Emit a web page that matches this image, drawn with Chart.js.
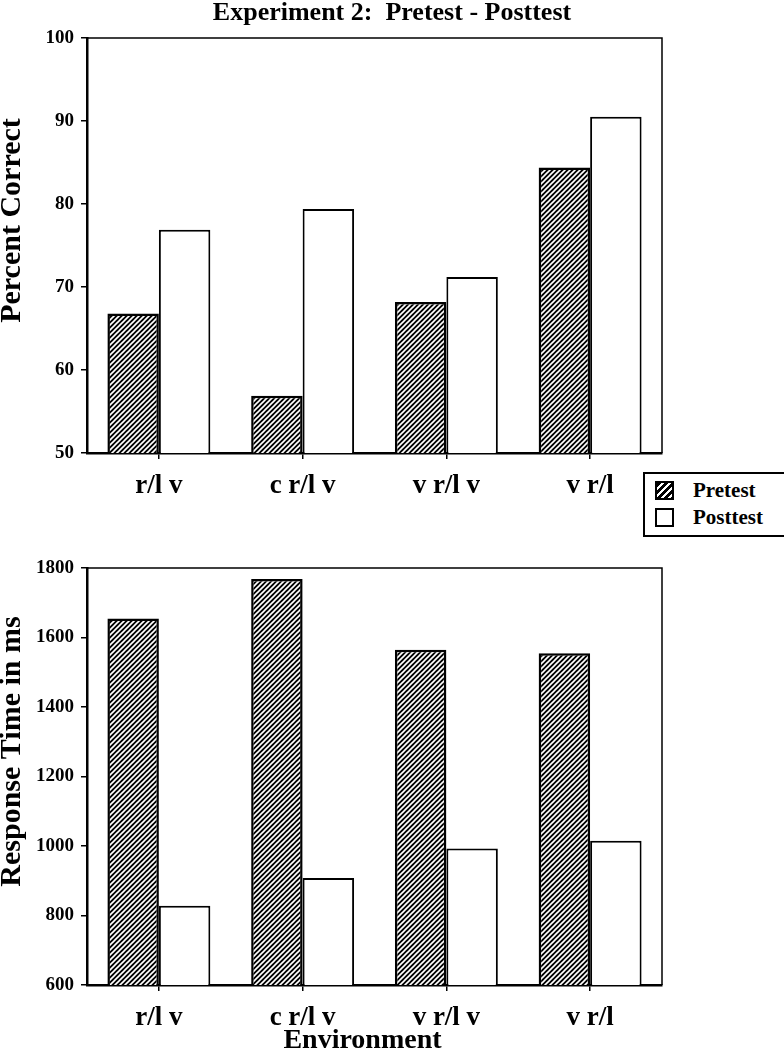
<!DOCTYPE html>
<html>
<head>
<meta charset="utf-8">
<script src="https://cdn.jsdelivr.net/npm/chart.js@4.4.0/dist/chart.umd.min.js"></script>
<style>
  body { margin: 0; background: #fff; width: 784px; height: 1050px; position: relative; overflow: hidden; font-family: 'Liberation Serif', serif; }
  canvas { position: absolute; left: 0; }
  #pctChart { top: 0; }
  #rtChart { top: 530px; }
  #legend { position: absolute; left: 643px; top: 472px; width: 160px; height: 61px; border: 2px solid #000; background: #fff; z-index: 2; }
  .item { position: absolute; left: 10px; height: 20px; font-weight: bold; font-size: 21px; line-height: 20px; }
  .swatch { position: absolute; left: 0; top: 1px; width: 15px; height: 15px; border: 2px solid #000; background: #fff; }
  .swatch.hatch { background: repeating-linear-gradient(135deg, #000 0 3px, #fff 3px 5px); }
  .item span { position: absolute; left: 38px; top: 0; white-space: nowrap; }
</style>
</head>
<body>
<canvas id="pctChart" width="784" height="540"></canvas>
<canvas id="rtChart" width="784" height="520"></canvas>
<div id="legend"></div>
<script>
// data
const categories = ['r/l v', 'c r/l v', 'v r/l v', 'v r/l'];
const seriesNames = ['Pretest', 'Posttest'];
const pretestPct = [66.8, 56.9, 68.2, 84.4];
const posttestPct = [76.9, 79.4, 71.2, 90.5];
const pretestRT = [1655, 1768, 1565, 1555];
const posttestRT = [828, 908, 993, 1015];
const pctRange = [50, 100, 10];
const rtRange = [600, 1800, 200];

const serif = "'Liberation Serif', 'Times New Roman', serif";

// black with white "/" stripes
const tile = document.createElement('canvas');
tile.width = 5;
tile.height = 5;
const tctx = tile.getContext('2d');
tctx.fillStyle = '#000';
tctx.fillRect(0, 0, 5, 5);
tctx.strokeStyle = '#fff';
tctx.lineWidth = 1.6;
tctx.beginPath();
tctx.moveTo(-1, 6); tctx.lineTo(6, -1);
tctx.moveTo(-1, 1); tctx.lineTo(1, -1);
tctx.moveTo(4, 6); tctx.lineTo(6, 4);
tctx.stroke();
const hatch = tctx.createPattern(tile, 'repeat');

// thin top/right frame of the plot area
const framePlugin = {
  id: 'frame',
  afterDraw(chart) {
    const { ctx, chartArea: a } = chart;
    ctx.save();
    ctx.strokeStyle = '#000';
    ctx.lineWidth = 1.5;
    ctx.beginPath();
    ctx.moveTo(a.left, a.top);
    ctx.lineTo(a.right, a.top);
    ctx.lineTo(a.right, a.bottom);
    ctx.stroke();
    ctx.restore();
  }
};

// nudge axis titles off-centre like the original
const titleShift = {
  id: 'titleShift',
  afterLayout(chart, args, opts) {
    const shifts = opts.shift || {};
    Object.keys(shifts).forEach((id) => {
      const s = chart.scales[id];
      if (!s || s._shifted) return;
      const [dx, dy] = shifts[id];
      const orig = s.drawTitle;
      s.drawTitle = function () {
        this.ctx.save();
        this.ctx.translate(dx, dy);
        orig.call(this);
        this.ctx.restore();
      };
      s._shifted = true;
    });
  }
};

const makeDatasets = (pre, post) => [
  { label: seriesNames[0], data: pre, backgroundColor: hatch, borderColor: '#000', borderWidth: 2.5 },
  { label: seriesNames[1], data: post, backgroundColor: '#fff', borderColor: '#000', borderWidth: 2 }
];

const makeOptions = (range, yTitle, xTitle, xHeight, padTop, titleOpts, shift) => ({
  responsive: false,
  animation: false,
  categoryPercentage: 0.716,
  barPercentage: 1,
  layout: { padding: { left: 0, right: 0, top: padTop, bottom: 0 } },
  plugins: {
    legend: { display: false },
    tooltip: { enabled: false },
    title: titleOpts,
    titleShift: { shift: shift }
  },
  scales: {
    x: {
      afterFit: (s) => { s.height = xHeight; },
      grid: { display: true, drawOnChartArea: false, drawTicks: true, tickLength: 6, offset: false, color: '#000', lineWidth: 1.5 },
      border: { display: true, color: '#000', width: 2.5 },
      ticks: { color: '#000', padding: 13.5, font: { family: serif, weight: 'bold', size: 27, lineHeight: 1 } },
      title: xTitle
    },
    y: {
      min: range[0],
      max: range[1],
      afterFit: (s) => { s.width = 87; },
      grid: { display: true, drawOnChartArea: false, drawTicks: true, tickLength: 6, color: '#000', lineWidth: 1.5 },
      border: { display: true, color: '#000', width: 2.5 },
      ticks: { stepSize: range[2], color: '#000', padding: 7, callback: (v) => String(v), font: { family: serif, weight: 'bold', size: 19 } },
      title: { display: true, text: yTitle, color: '#000', padding: { top: -3, bottom: 0 }, font: { family: serif, weight: 'bold', size: 30, lineHeight: 1 } }
    },
    // empty right gutter so the chart title centres on the page
    gutter: {
      type: 'linear',
      position: 'right',
      display: true,
      afterFit: (s) => { s.width = 122; },
      grid: { display: false },
      border: { display: false },
      ticks: { display: false }
    }
  }
});

new Chart(document.getElementById('pctChart'), {
  type: 'bar',
  data: { labels: categories, datasets: makeDatasets(pretestPct, posttestPct) },
  options: makeOptions(pctRange, 'Percent Correct', { display: false }, 87, 0, {
    display: true,
    text: 'Experiment 2:  Pretest - Posttest',
    color: '#000',
    padding: { top: 0, bottom: 12 },
    font: { family: serif, weight: 'bold', size: 26, lineHeight: 1 }
  }, { y: [0, -25] }),
  plugins: [framePlugin, titleShift]
});

new Chart(document.getElementById('rtChart'), {
  type: 'bar',
  data: { labels: categories, datasets: makeDatasets(pretestRT, posttestRT) },
  options: makeOptions(rtRange, 'Response Time in ms', {
    display: true,
    text: 'Environment',
    color: '#000',
    padding: { top: -8.5, bottom: -5 },
    font: { family: serif, weight: 'bold', size: 28, lineHeight: 1 }
  }, 65, 38, { display: false }, { y: [0, -25], x: [-12, 0] }),
  plugins: [framePlugin, titleShift]
});

// legend
const legend = document.getElementById('legend');
seriesNames.forEach((name, i) => {
  const item = document.createElement('div');
  item.className = 'item';
  item.style.top = (6 + i * 27) + 'px';
  const sw = document.createElement('div');
  sw.className = 'swatch' + (i === 0 ? ' hatch' : '');
  const txt = document.createElement('span');
  txt.textContent = name;
  item.appendChild(sw);
  item.appendChild(txt);
  legend.appendChild(item);
});
</script>
</body>
</html>
